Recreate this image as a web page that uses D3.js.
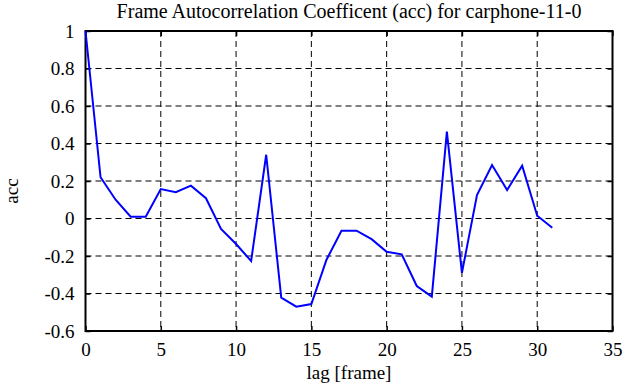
<!DOCTYPE html>
<html><head><meta charset="utf-8">
<script src="https://cdn.jsdelivr.net/npm/d3@7"></script>
<style>body{margin:0;background:#fff}svg{display:block}</style>
</head><body>
<script>
const lags = d3.range(0, 32);
const acc = [1.0, 0.22, 0.10, 0.01, 0.01, 0.157, 0.14, 0.175, 0.108, -0.056, -0.136, -0.227,
  0.34, -0.422, -0.47, -0.456, -0.221, -0.065, -0.065, -0.11, -0.177, -0.191, -0.36, -0.417,
  0.463, -0.29, 0.125, 0.285, 0.152, 0.282, 0.015, -0.049];
const xTicks = [0, 5, 10, 15, 20, 25, 30, 35];
const yTicks = [-0.6, -0.4, -0.2, 0, 0.2, 0.4, 0.6, 0.8, 1];
const title = "Frame Autocorrelation Coefficent (acc) for carphone-11-0";
const xLabel = "lag [frame]";
const yLabel = "acc";

const FONT = "Liberation Serif, DejaVu Serif, serif";
const W = 641, H = 387;
const m = {l: 85.5, r: 641 - 612.5, t: 31, b: 387 - 331};
const svg = d3.select("body").append("svg").attr("width", W).attr("height", H)
  .attr("font-family", FONT);
const x = d3.scaleLinear().domain([0, 35]).range([m.l, W - m.r]);
const y = d3.scaleLinear().domain([-0.6, 1]).range([H - m.b, m.t]);
const fmt = d => d === 0 ? "0" : String(+d.toFixed(1));

// grid
const g = svg.append("g");
g.selectAll(".vg").data(xTicks.slice(1, -1)).join("line")
  .attr("x1", d => x(d)).attr("x2", d => x(d)).attr("y1", y(1)).attr("y2", y(-0.6))
  .attr("stroke", "#000").attr("stroke-width", 1).attr("stroke-dasharray", "6,4");
g.selectAll(".hg").data(yTicks.slice(1, -1)).join("line")
  .attr("x1", x(0)).attr("x2", x(35)).attr("y1", d => y(d)).attr("y2", d => y(d))
  .attr("stroke", "#000").attr("stroke-width", 1).attr("stroke-dasharray", "6,4");

// axes (inner ticks)
const ax = svg.append("g").attr("transform", `translate(0,${y(-0.6)})`)
  .call(d3.axisBottom(x).tickValues(xTicks).tickSize(-5).tickPadding(12).tickFormat(d3.format("d")));
const axT = svg.append("g").attr("transform", `translate(0,${y(1)})`)
  .call(d3.axisTop(x).tickValues(xTicks).tickSize(-5).tickFormat(""));
const ay = svg.append("g").attr("transform", `translate(${x(0)},0)`)
  .call(d3.axisLeft(y).tickValues(yTicks).tickSize(-5).tickPadding(11).tickFormat(fmt));
const ayR = svg.append("g").attr("transform", `translate(${x(35)},0)`)
  .call(d3.axisRight(y).tickValues(yTicks).tickSize(-5).tickFormat(""));
[ax, axT, ay, ayR].forEach(a => {
  a.attr("font-family", FONT).attr("font-size", 19);
  a.select(".domain").remove();
  a.selectAll("line").attr("stroke", "#000").attr("stroke-width", 1.5);
  a.selectAll("text").attr("fill", "#000");
});

// frame
svg.append("rect").attr("x", x(0)).attr("y", y(1)).attr("width", x(35) - x(0)).attr("height", y(-0.6) - y(1))
  .attr("fill", "none").attr("stroke", "#000").attr("stroke-width", 2);

// line
svg.append("path").datum(lags.map((l, i) => [l, acc[i]]))
  .attr("d", d3.line().x(d => x(d[0])).y(d => y(d[1])))
  .attr("fill", "none").attr("stroke", "#0000ff").attr("stroke-width", 2);

svg.append("text").attr("x", (x(0) + x(35)) / 2).attr("y", 18).attr("text-anchor", "middle")
  .attr("font-size", 20).text(title);
svg.append("text").attr("x", (x(0) + x(35)) / 2).attr("y", 379).attr("text-anchor", "middle")
  .attr("font-size", 19).text(xLabel);
svg.append("text").attr("transform", `translate(18,191) rotate(-90)`).attr("text-anchor", "middle")
  .attr("font-size", 19).text(yLabel);
</script>
</body></html>
